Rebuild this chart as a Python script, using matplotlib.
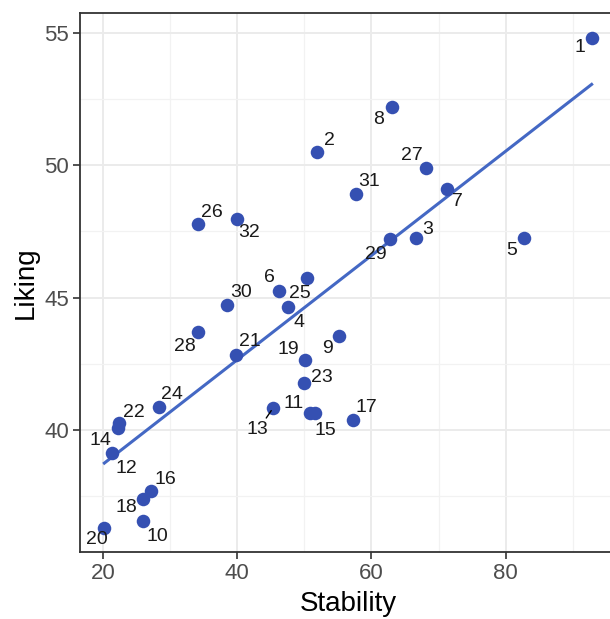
import numpy as np
import matplotlib
matplotlib.use('Agg')
import matplotlib.pyplot as plt
from matplotlib.ticker import MultipleLocator

plt.rcParams['font.family'] = ['Liberation Sans', 'DejaVu Sans']

# data
labels = [str(i) for i in range(1, 33)]
stability = [92.8, 51.9, 66.7, 47.6, 82.7, 46.2, 71.2, 63.0, 55.2, 26.0,
             50.9, 21.3, 45.3, 22.2, 51.6, 27.2, 57.2, 26.0, 50.1, 20.2,
             39.8, 22.4, 50.0, 28.4, 50.4, 34.1, 68.1, 34.1, 62.8, 38.5,
             57.7, 39.9]
liking = [54.84, 50.49, 47.25, 44.63, 47.25, 45.24, 49.12, 52.21, 43.53, 36.55,
          40.62, 39.11, 40.81, 40.07, 40.62, 37.68, 40.38, 37.36, 42.64, 36.30,
          42.84, 40.24, 41.76, 40.85, 45.75, 47.77, 49.91, 43.71, 47.22, 44.70,
          48.93, 47.98]

# label offsets in pixels (dx, dy), like ggrepel placed them
label_offsets = [(-12, -10), (12, 12), (11, 9), (11, -15), (-12, -12),
                 (-9, 14), (11, -13), (-13, -12), (-12, -12), (14, -16),
                 (-17, 10), (15, -15), (-15, -21), (-17, -13), (10, -17),
                 (14, 12), (14, 12), (-17, -8), (-17, 10), (-7, -12),
                 (14, 13), (15, 11), (18, 6), (13, 13), (-7, -16),
                 (14, 12), (-14, 12), (-13, -15), (-14, -16), (14, 13),
                 (13, 12), (13, -14)]

point_color = '#3550b2'
line_color = '#4468c4'

fig = plt.figure(figsize=(6.1, 6.19), dpi=100)
ax = fig.add_axes([80 / 610, 1 - 552 / 619, 536 / 610, 539 / 619])

ax.scatter(stability, liking, s=95, color=point_color, zorder=3, linewidths=0)

slope, intercept = np.polyfit(stability, liking, 1)
xs = np.array([min(stability), max(stability)])
ax.plot(xs, intercept + slope * xs, color=line_color, lw=2.2, zorder=2)

for lab, x, y, off in zip(labels, stability, liking, label_offsets):
    arrow = None
    if lab == '13':
        arrow = dict(arrowstyle='-', color='black', lw=1.0,
                     shrinkA=0, shrinkB=2, relpos=(0.8, 1.0))
    ax.annotate(lab, (x, y), xytext=off, textcoords='offset pixels',
                ha='center', va='center', fontsize=14, color='#1a1a1a',
                arrowprops=arrow, zorder=4)

xr = max(stability) - min(stability)
yr = max(liking) - min(liking)
ax.set_xlim(min(stability) - 0.05 * xr, max(stability) + 0.05 * xr)
ax.set_ylim(min(liking) - 0.05 * yr, max(liking) + 0.05 * yr)

ax.xaxis.set_major_locator(MultipleLocator(20))
ax.xaxis.set_minor_locator(MultipleLocator(10))
ax.yaxis.set_major_locator(MultipleLocator(5))
ax.yaxis.set_minor_locator(MultipleLocator(2.5))
ax.grid(True, which='major', color='#ebebeb', lw=1.4, zorder=0)
ax.grid(True, which='minor', color='#f2f2f2', lw=0.9, zorder=0)
ax.set_axisbelow(True)

for sp in ax.spines.values():
    sp.set_color('#333333')
    sp.set_linewidth(1.3)

ax.tick_params(which='major', length=5, width=1.2, color='#333333',
               labelsize=16, labelcolor='#4d4d4d', pad=3)
ax.tick_params(which='minor', length=0)

ax.set_xlabel('Stability', fontsize=20, color='black', labelpad=5)
ax.set_ylabel('Liking', fontsize=20, color='black', labelpad=4)

fig.savefig('out.png', dpi=100)
